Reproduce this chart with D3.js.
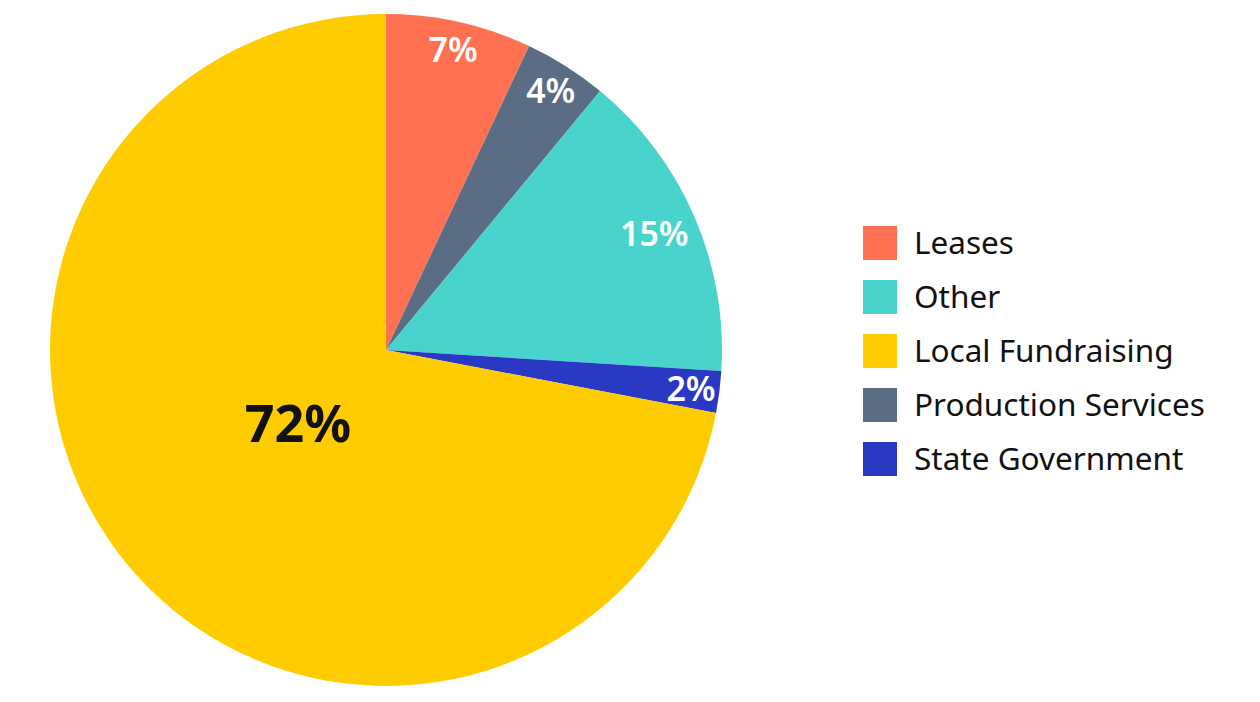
<!DOCTYPE html>
<html>
<head>
<meta charset="utf-8">
<script src="https://cdn.jsdelivr.net/npm/d3@7"></script>
<style>
	body { margin: 0; background: #fff; }
	text { font-family: "Noto Sans", sans-serif; }
</style>
</head>
<body>
<svg id="svg" width="1260" height="702"></svg>
<script>
// slices, clockwise from 12 o'clock
var categories = ["Leases", "Production Services", "Other", "State Government", "Local Fundraising"]
var values = [7, 4, 15, 2, 72]
var colors = ["#FF7150", "#5B6D85", "#48D4CC", "#2A39C4", "#FFCC00"]
// legend order differs from slice order
var legendOrder = ["Leases", "Other", "Local Fundraising", "Production Services", "State Government"]

var svg = d3.select("#svg")
var cx = 386, cy = 350, R = 336

var color = d3.scaleOrdinal().domain(categories).range(colors)

var pie = d3.pie().sort(null).value(function (d) { return d.value })
var slices = pie(categories.map(function (c, i) { return {name: c, value: values[i]} }))

var arc = d3.arc().innerRadius(0).outerRadius(R)
var thinLabel = d3.arc().innerRadius(R * 0.83).outerRadius(R)
var midLabel = d3.arc().innerRadius(R * 0.74).outerRadius(R)
var bigLabel = d3.arc().innerRadius(0).outerRadius(R * 0.68)

function labelArc(d) {
	if (d.data.value > 50) return bigLabel
	if (d.data.value > 10) return midLabel
	return thinLabel
}

var g = svg.append("g").attr("transform", "translate(" + cx + "," + cy + ")")

g.selectAll("path")
	.data(slices)
	.enter().append("path")
	.attr("d", arc)
	.style("fill", function (d) { return color(d.data.name) })

g.selectAll("text")
	.data(slices)
	.enter().append("text")
	.attr("transform", function (d) {
		var p = labelArc(d).centroid(d)
		return "translate(" + p[0] + "," + p[1] + ")"
	})
	.attr("text-anchor", "middle")
	.attr("dy", "0.36em")
	.style("font-weight", function (d) { return d.data.value > 50 ? 700 : 600 })
	.style("font-size", function (d) { return d.data.value > 50 ? "52px" : "34px" })
	.style("fill", function (d) { return d.data.value > 50 ? "#111" : "#fff" })
	.text(function (d) { return d.data.value + "%" })

var legend = svg.append("g").attr("transform", "translate(863,226)")
var row = d3.scaleBand().domain(legendOrder).range([0, 270]).paddingInner(0)

var item = legend.selectAll("g")
	.data(legendOrder)
	.enter().append("g")
	.attr("transform", function (d) { return "translate(0," + row(d) + ")" })

item.append("rect")
	.attr("width", 34)
	.attr("height", 34)
	.style("fill", function (d) { return color(d) })

item.append("text")
	.attr("x", 51)
	.attr("y", 17)
	.attr("dy", "0.36em")
	.style("font-size", "31.5px")
	.style("fill", "#111")
	.text(function (d) { return d })
</script>
</body>
</html>
